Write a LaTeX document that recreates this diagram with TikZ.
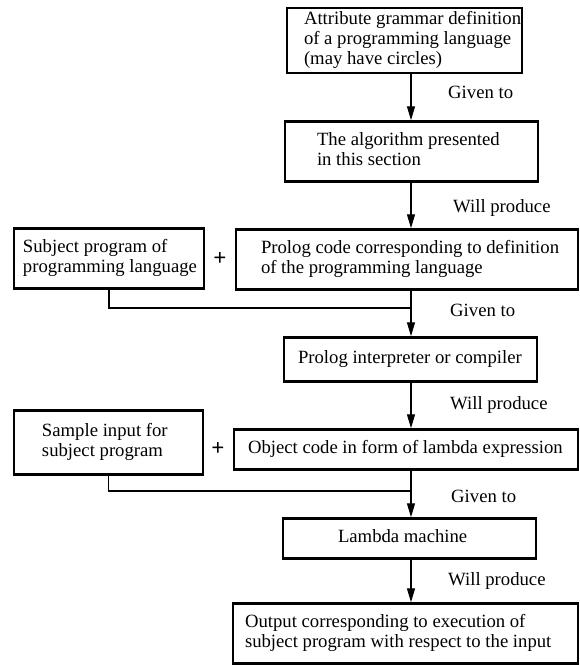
\documentclass[tikz,border=0pt]{standalone}
\usepackage{fontspec}
\setmainfont{Liberation Serif}
\usetikzlibrary{arrows.meta}
\newcommand{\btxt}[3]{\makebox[#1pt][l]{\hspace*{#2pt}\begin{tabular}{@{}l@{}}#3\end{tabular}}}
\begin{document}
\begin{tikzpicture}[x=1pt,y=-1pt,
  box/.style={draw, line width=2.5pt, inner sep=0pt, font=\fontsize{18.7}{20}\selectfont},
  lbl/.style={inner sep=0pt, anchor=west, font=\fontsize{18.7}{20}\selectfont},
  conn/.style={line width=1.3pt},
  arr/.style={line width=1.3pt, -{Triangle[length=14pt,width=8pt]}},
  plus/.style={inner sep=0pt, font=\fontsize{23}{23}\selectfont\bfseries}]
\useasboundingbox (0,0) rectangle (580,665);
\coordinate (spine) at (411,0);

\node[box, minimum height=65pt] (b1) at (404.5,40.5)
  {\btxt{235}{17}{Attribute grammar definition\\ of a programming language\\ (may have circles)}};
\node[box, minimum height=60pt] (b2) at (411.5,151.5)
  {\btxt{253}{32}{The algorithm presented\\ in this section}};
\node[box, minimum height=60pt] (b3) at (407,259.5)
  {\btxt{342}{25}{Prolog code corresponding to definition\\ of the programming language}};
\node[box, minimum height=60pt] (sp) at (109,258.5)
  {\btxt{190}{9}{Subject program of\\ programming language}};
\node[plus] (p1) at (220,259) {+};
\node[box, minimum height=44pt] (b4) at (410.5,359.5)
  {\btxt{253}{14}{Prolog interpreter or compiler}};
\node[box, minimum height=40pt] (b5) at (406,449.5)
  {\btxt{344}{14}{Object code in form of lambda expression}};
\node[box, minimum height=64pt] (si) at (108.5,442.5)
  {\btxt{189}{28}{Sample input for\\ subject program}};
\node[plus] (p2) at (218,449) {+};
\node[box, minimum height=40pt] (b6) at (409.5,538.5)
  {\btxt{253}{55}{Lambda machine}};
\node[box, minimum height=60pt] (b7) at (405.5,633.5)
  {\btxt{345}{12}{Output corresponding to execution of\\ subject program with respect to the input}};

\node[lbl] (l1) at (448,92) {Given to};
\node[lbl] (l2) at (453,208) {Will produce};
\node[lbl] (l3) at (450,310) {Given to};
\node[lbl] (l4) at (450,405) {Will produce};
\node[lbl] (l5) at (451,496) {Given to};
\node[lbl] (l6) at (448,581) {Will produce};

\coordinate (j1) at (411,308);
\coordinate (j2) at (411,491);

\draw[arr] (b1.south -| spine) -- (b2.north -| spine);
\draw[arr] (b2.south -| spine) -- (b3.north -| spine);
\draw[arr] (b3.south -| spine) -- (b4.north -| spine);
\draw[arr] (b4.south -| spine) -- (b5.north -| spine);
\draw[arr] (b5.south -| spine) -- (b6.north -| spine);
\draw[arr] (b6.south -| spine) -- (b7.north -| spine);
\draw[conn] (sp.south) |- (j1);
\draw[conn] (si.south) |- (j2);
\end{tikzpicture}
\end{document}
